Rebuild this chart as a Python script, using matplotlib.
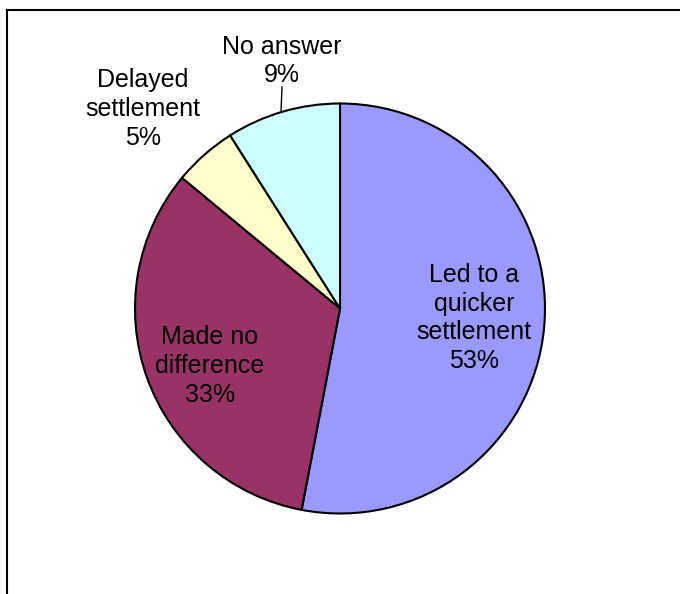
import matplotlib.pyplot as plt
from matplotlib.lines import Line2D

plt.rcParams['font.family'] = ['Liberation Sans', 'DejaVu Sans']

labels = ['Led to a\nquicker\nsettlement', 'Made no\ndifference', 'Delayed\nsettlement', 'No answer']
values = [53, 33, 5, 9]
colors = ['#9999FF', '#993366', '#FFFFCC', '#CCFFFF']

# pixel geometry of the reference (680x594), pie radius = 205 px
W, H = 680, 594
cx, cy, R = 340, 308.5, 205

fig = plt.figure(figsize=(6.8, 5.94), dpi=100)
ax = fig.add_axes([0, 0, 1, 1])

ax.pie(values, colors=colors, startangle=90, counterclock=False,
       wedgeprops=dict(edgecolor='black', linewidth=1.5))


def to_data(px, py):
    return (px - cx) / R, (cy - py) / R


ax.set_xlim(to_data(0, 0)[0], to_data(W, 0)[0])
ax.set_ylim(to_data(0, H)[1], to_data(0, 0)[1])
ax.set_aspect('equal')
ax.axis('off')

# label positions (pixel centres)
label_pos = [(474, 318), (210, 366), (143, 109), (282, 61)]
for lab, v, (px, py) in zip(labels, values, label_pos):
    x, y = to_data(px, py)
    ax.text(x, y, f'{lab}\n{v}%', ha='center', va='center',
            fontsize=18, linespacing=1.25, color='black')

# leader line for "No answer"
x0, y0 = to_data(282, 87)
x1, y1 = to_data(281, 112)
ax.plot([x0, x1], [y0, y1], color='black', linewidth=1)

# chart frame (left and top edges visible)
fig.add_artist(Line2D([7 / W, 7 / W], [0, 1 - 10 / H], transform=fig.transFigure,
                      color='black', linewidth=1.5))
fig.add_artist(Line2D([7 / W, 1], [1 - 10 / H, 1 - 10 / H], transform=fig.transFigure,
                      color='black', linewidth=1.5))

fig.savefig('out.png', dpi=100)
